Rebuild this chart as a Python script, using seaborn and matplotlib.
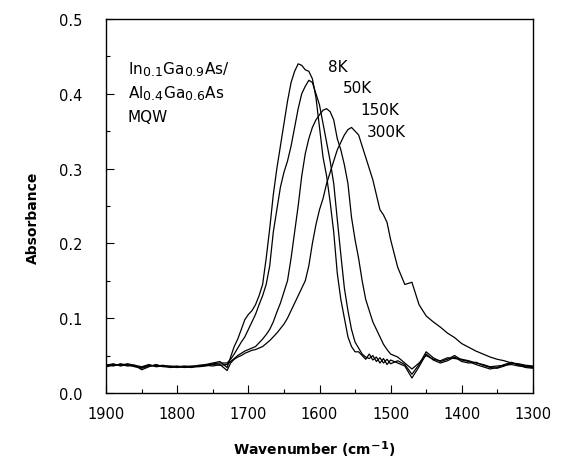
import numpy as np
import pandas as pd
import matplotlib
matplotlib.use('Agg')
import matplotlib.pyplot as plt
import seaborn as sns
from matplotlib.ticker import MultipleLocator
import matplotlib._mathtext as mathtext_internal

# wavenumber grid (cm^-1)
wavenumber = [
    1900, 1890, 1880, 1870, 1860, 1850, 1840, 1830, 1820, 1810, 1800, 1790, 1780, 1770, 1760, 1750, 1740,
    1730, 1725, 1720, 1715, 1710, 1705, 1700, 1695, 1690, 1685,
    1680, 1675, 1670, 1665, 1660, 1655, 1650, 1645, 1640, 1635,
    1630, 1625, 1620, 1615, 1610, 1605, 1600, 1595, 1590, 1585,
    1580, 1575, 1570, 1565, 1560, 1555, 1550, 1545, 1540, 1535,
    1530, 1525, 1520, 1515, 1510, 1505, 1500,
    1490, 1480, 1470, 1460, 1450, 1440, 1430, 1420, 1410, 1400,
    1390, 1380, 1370, 1360, 1350, 1340, 1330, 1320, 1310, 1300,
]

abs_8K = [
    .037, .039, .036, .038, .035, .033, .036, .037, .036, .034, .035, .036, .035, .037, .038, .040, .042,
    .034, .048, .062, .072, .085, .098, .105, .110, .118, .130,
    .145, .180, .220, .265, .300, .330, .360, .390, .415, .430,
    .440, .438, .432, .430, .420, .395, .355, .315, .290, .255,
    .215, .160, .125, .100, .075, .062, .055, .055, .050, .045,
    .052, .044, .048, .040, .046, .038, .044,
    .040, .036, .020, .035, .052, .044, .040, .043, .048, .042,
    .040, .041, .037, .034, .033, .036, .040, .038, .036, .035,
]

abs_50K = [
    .035, .037, .038, .036, .037, .031, .035, .038, .035, .035, .034, .035, .036, .036, .037, .039, .040,
    .040, .045, .052, .060, .068, .075, .085, .095, .105, .118,
    .130, .145, .170, .215, .245, .275, .295, .310, .330, .355,
    .380, .400, .410, .418, .415, .400, .385, .360, .335, .310,
    .280, .232, .185, .140, .110, .085, .068, .060, .052, .048,
    .046, .050, .042, .047, .040, .045, .039,
    .043, .038, .025, .038, .055, .047, .042, .045, .050, .044,
    .042, .038, .035, .032, .034, .038, .041, .037, .034, .033,
]

abs_150K = [
    .038, .036, .039, .037, .036, .034, .037, .036, .037, .035, .036, .034, .035, .035, .036, .038, .037,
    .038, .042, .046, .050, .053, .056, .058, .060, .062, .067,
    .072, .078, .085, .095, .108, .120, .135, .150, .180, .215,
    .250, .290, .320, .340, .355, .365, .372, .378, .380, .376,
    .365, .340, .325, .305, .280, .235, .205, .180, .150, .125,
    .110, .095, .085, .075, .065, .058, .052,
    .048, .040, .032, .040, .050, .045, .043, .047, .046, .045,
    .043, .040, .038, .035, .036, .037, .038, .036, .035, .034,
]

abs_300K = [
    .036, .038, .037, .039, .037, .035, .038, .035, .036, .036, .035, .035, .034, .036, .037, .036, .038,
    .030, .040, .045, .048, .050, .053, .055, .057, .058, .060,
    .062, .066, .070, .075, .080, .086, .092, .100, .110, .120,
    .130, .140, .150, .170, .200, .225, .245, .260, .280, .295,
    .310, .325, .335, .345, .352, .355, .350, .345, .330, .315,
    .300, .285, .265, .245, .238, .228, .205,
    .168, .145, .148, .118, .103, .095, .088, .080, .074, .066,
    .061, .056, .052, .048, .045, .043, .040, .039, .037, .036,
]

temperatures = ['8K', '50K', '150K', '300K']
series = [abs_8K, abs_50K, abs_150K, abs_300K]
# label anchor (wavenumber, absorbance) for each temperature
label_x = [1588, 1567, 1542, 1533]
label_y = [0.437, 0.409, 0.379, 0.349]

x_ticks = [1900, 1800, 1700, 1600, 1500, 1400, 1300]
y_ticks = [0.0, 0.1, 0.2, 0.3, 0.4, 0.5]

df = pd.DataFrame({
    'wavenumber': wavenumber * len(temperatures),
    'absorbance': sum(series, []),
    'T': np.repeat(temperatures, len(wavenumber)),
})

sns.set_style('ticks')
plt.rcParams['font.family'] = ['DejaVu Sans']
plt.rcParams['mathtext.fontset'] = 'dejavusans'
for key in ['text.color', 'axes.labelcolor', 'xtick.color', 'ytick.color']:
    plt.rcParams[key] = 'black'
# subscripts in the original are nearly full size
mathtext_internal.SHRINK_FACTOR = 0.82

fig = plt.figure(figsize=(5.68, 4.64), dpi=100)
ax = fig.add_axes([0.187, 0.151, 0.751, 0.806])

sns.lineplot(data=df, x='wavenumber', y='absorbance', units='T', estimator=None,
             color='black', linewidth=0.9, sort=False, ax=ax, legend=False)

ax.set_xlim(1900, 1300)
ax.set_ylim(0, 0.5)
ax.set_xticks(x_ticks)
ax.set_xticklabels([str(t) for t in x_ticks])
ax.set_yticks(y_ticks)
ax.set_yticklabels([f'{t:.1f}' for t in y_ticks])
ax.xaxis.set_minor_locator(MultipleLocator(50))
ax.yaxis.set_minor_locator(MultipleLocator(0.05))

ax.tick_params(which='both', direction='in', top=False, right=False, colors='black')
ax.tick_params(axis='y', which='major', length=6, width=0.8, pad=17, labelsize=10.5)
ax.tick_params(axis='x', which='major', length=6, width=0.8, pad=9.5, labelsize=10.5)
ax.tick_params(which='minor', length=3, width=0.8)
for s in ax.spines.values():
    s.set_visible(True)
    s.set_linewidth(1.0)
    s.set_color('black')

ax.set_xlabel('Wavenumber (cm$^{\\mathbf{-1}}$)', fontsize=10, fontweight='bold', va='center')
ax.set_ylabel('Absorbance', fontsize=10, fontweight='bold', va='center')
ax.xaxis.set_label_coords(0.487, -0.148)
ax.yaxis.set_label_coords(-0.171, 0.47)

ax.text(1870, 0.433, 'In$_{0.1}$Ga$_{0.9}$As/', fontsize=11, va='center', ha='left')
ax.text(1870, 0.402, 'Al$_{0.4}$Ga$_{0.6}$As', fontsize=11, va='center', ha='left')
ax.text(1870, 0.370, 'MQW', fontsize=11, va='center', ha='left')

for t, lx, ly in zip(temperatures, label_x, label_y):
    ax.text(lx, ly, t, fontsize=11, va='center', ha='left')

fig.savefig('out.png', dpi=100)
